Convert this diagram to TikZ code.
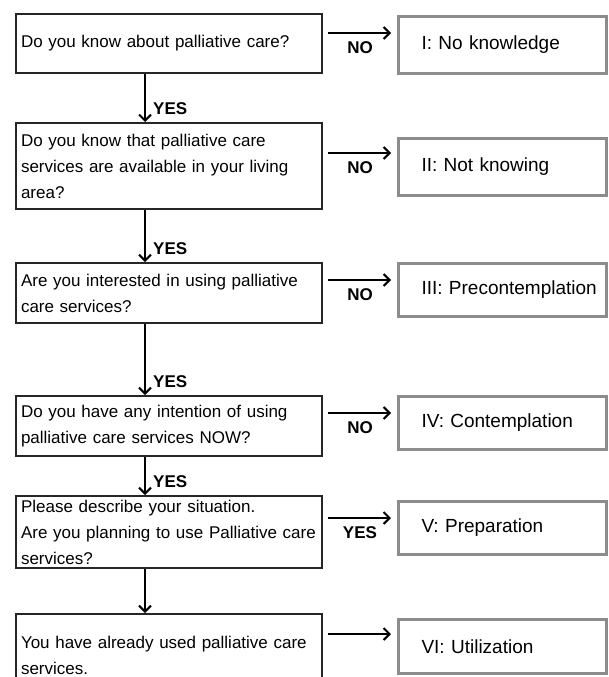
\documentclass[tikz,border=0pt]{standalone}
\usepackage{fontspec}
\setmainfont{Liberation Sans}
\usetikzlibrary{arrows.meta}
\begin{document}
\begin{tikzpicture}[x=1pt,y=-1pt,
  qbox/.style={draw=black!85, line width=2pt, anchor=north west, minimum width=306pt,
    text width=296pt, inner xsep=5pt, inner ysep=0pt, align=left,
    font=\fontsize{17}{26}\selectfont},
  sbox/.style={draw=black!45, line width=3pt, anchor=north west, minimum width=208pt,
    text width=162pt, inner xsep=23pt, inner ysep=0pt, align=left,
    font=\fontsize{19}{24}\selectfont},
  arr/.style={line width=2pt, -{Straight Barb[length=6pt,width=12pt]}},
  harr/.style={arr, shorten <=5pt, shorten >=6pt},
  lbl/.style={font=\bfseries\fontsize{17}{20}\selectfont, inner sep=0pt},
  hlbl/.style={font=\bfseries\fontsize{17}{20}\selectfont, inner sep=0pt}
]
\useasboundingbox (0,0) rectangle (609,677);
\fill[white] (0,0) rectangle (609,677);

% question boxes
\node[qbox, minimum height=59pt] (q1) at (15,13) {Do you know about palliative care?};
\node[qbox, minimum height=86pt] (q2) at (15,122) {Do you know that palliative care\\services are available in your living\\area?};
\node[qbox, minimum height=60pt] (q3) at (15,262) {Are you interested in using palliative\\care services?};
\node[qbox, minimum height=60pt] (q4) at (15,395) {Do you have any intention of using\\palliative care services NOW?};
\node[qbox, minimum height=72pt] (q5) at (15,495) {Please describe your situation.\\Are you planning to use Palliative care\\services?};
\node[qbox, minimum height=82pt] (q6) at (15,613) {You have already used palliative care\\services.};

% stage boxes
\node[sbox, minimum height=57pt] (s1) at (397,15) {\mbox{I: No knowledge}};
\node[sbox, minimum height=57pt] (s2) at (397,137) {\mbox{II: Not knowing}};
\node[sbox, minimum height=53pt] (s3) at (397,262) {\mbox{III: Precontemplation}};
\node[sbox, minimum height=53pt] (s4) at (397,395) {\mbox{IV: Contemplation}};
\node[sbox, minimum height=53pt] (s5) at (397,500) {\mbox{V: Preparation}};
\node[sbox, minimum height=54pt] (s6) at (397,618) {\mbox{VI: Utilization}};

% arrow end points on the stage boxes
\coordinate (e1) at ([yshift=-18pt]s1.north west);
\coordinate (e2) at ([yshift=-16pt]s2.north west);
\coordinate (e3) at ([yshift=-18pt]s3.north west);
\coordinate (e4) at ([yshift=-18pt]s4.north west);
\coordinate (e5) at ([yshift=-18pt]s5.north west);
\coordinate (e6) at ([yshift=-16pt]s6.north west);

% vertical arrows
\draw[arr] ([xshift=130pt]q1.south west) -- ([xshift=130pt]q2.north west);
\draw[arr] ([xshift=130pt]q2.south west) -- ([xshift=130pt]q3.north west);
\draw[arr] ([xshift=130pt]q3.south west) -- ([xshift=130pt]q4.north west);
\draw[arr] ([xshift=130pt]q4.south west) -- ([xshift=130pt]q5.north west);
\draw[arr] ([xshift=130pt]q5.south west) -- ([xshift=130pt]q6.north west);

\node[lbl, anchor=south west] (y1) at ([xshift=138pt,yshift=7pt]q2.north west) {YES};
\node[lbl, anchor=south west] (y2) at ([xshift=138pt,yshift=7pt]q3.north west) {YES};
\node[lbl, anchor=south west] (y3) at ([xshift=138pt,yshift=7pt]q4.north west) {YES};
\node[lbl, anchor=south west] (y4) at ([xshift=138pt,yshift=7pt]q5.north west) {YES};

% horizontal arrows
\draw[harr] (q1.east |- e1) -- node[hlbl, below=8pt] (n1) {NO} (e1);
\draw[harr] (q2.east |- e2) -- node[hlbl, below=8pt] (n2) {NO} (e2);
\draw[harr] (q3.east |- e3) -- node[hlbl, below=8pt] (n3) {NO} (e3);
\draw[harr] (q4.east |- e4) -- node[hlbl, below=8pt] (n4) {NO} (e4);
\draw[harr] (q5.east |- e5) -- node[hlbl, below=8pt] (n5) {YES} (e5);
\draw[harr] (q6.east |- e6) -- (e6);
\end{tikzpicture}
\end{document}
